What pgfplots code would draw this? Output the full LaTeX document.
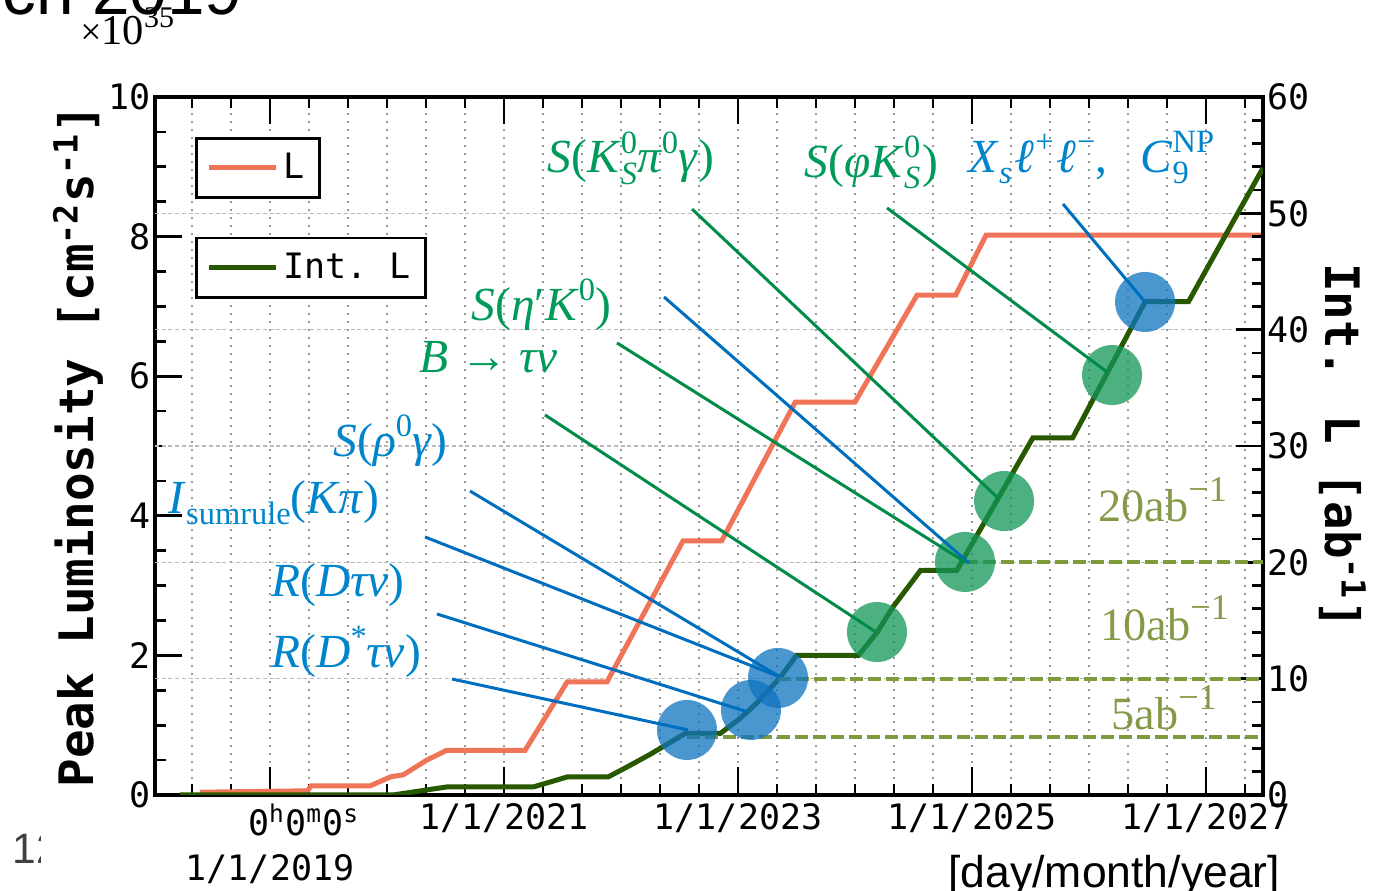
\documentclass[border=0pt]{standalone}
\usepackage{fontspec}
\setmainfont{Liberation Serif}
\newfontfamily\mono{DejaVu Sans Mono}
\newfontfamily\sans{Liberation Sans}
\usepackage{pgfplots}
\pgfplotsset{compat=1.18}

\definecolor{Lorange}{RGB}{240,117,88}
\definecolor{Igreen}{RGB}{40,88,0}
\definecolor{lblue}{RGB}{0,110,190}
\definecolor{tblue}{RGB}{0,132,204}
\definecolor{lgreen}{RGB}{0,140,72}
\definecolor{tgreen}{RGB}{0,154,90}
\definecolor{cblue}{RGB}{14,115,191}
\definecolor{cgreen}{RGB}{16,150,86}
\definecolor{olivetext}{RGB}{132,154,72}
\definecolor{olivedash}{RGB}{125,155,60}

\newcommand\lab{\fontsize{19}{21}\selectfont}
\newcommand\Sup[1]{\raisebox{0.42em}{\fontsize{13}{14}\selectfont #1}}
\newcommand\Sub[1]{\raisebox{-0.25em}{\fontsize{13}{14}\selectfont #1}}
\newcommand\SubSup[2]{\rlap{\Sup{#2}}\Sub{#1}}
\newcommand\abl{\fontsize{18.5}{20}\selectfont}
\newcommand\abSup[1]{\raisebox{0.45em}{\fontsize{14.5}{15}\selectfont #1}}

\pgfplotsset{
  common/.style={
    width=443.2pt, height=279.2pt, scale only axis,
    at={(0pt,0pt)}, anchor=south west,
    xmin=2018.017, xmax=2027.487,
    tick align=inside,
    major tick length=11pt, minor tick length=4.4pt,
    every tick/.style={black, line width=1.1pt},
    every minor tick/.style={black, line width=1.1pt},
    axis line style={line width=1.3pt},
    tick label style={font=\mono\fontsize{14}{18}\selectfont},
    /pgf/number format/assume math mode=true,
    legend image code/.code={\draw[##1] (0pt,0pt) -- (27pt,0pt);},
  }
}

\begin{document}
\begin{tikzpicture}
\useasboundingbox (-62pt,-38.4pt) rectangle (490.4pt,318pt);

% fragments around the chart
\node[anchor=base east, font=\sans\fontsize{27}{30}\selectfont, inner sep=0pt] at (35.2pt,312pt) {March 2019};
\node[anchor=base west, font=\fontsize{17}{19}\selectfont, inner sep=0pt] at (-30pt,300pt) {{\fontsize{15}{16}\selectfont ×}10\raisebox{0.42em}{\fontsize{12}{13}\selectfont 35}};
\begin{scope}
\clip (-62pt,-38.4pt) rectangle (-45.6pt,-10pt);
\node[anchor=base west, font=\sans\fontsize{17}{20}\selectfont, text=black!75, inner sep=0pt] at (-57pt,-27.2pt) {12};
\end{scope}
\node[anchor=base west, font=\sans\fontsize{17.8}{20}\selectfont, inner sep=0pt] at (317.2pt,-36.8pt) {[day/month/year]};

% ---------------- left axis: peak luminosity ----------------
\begin{axis}[common,
  ymin=0, ymax=10, ytick={0,2,4,6,8,10}, minor y tick num=3, ytick pos=left,
  xtick={2019,2021,2023,2025,2027},
  minor xtick={2018.3333,2018.6667,2019.3333,2019.6667,2020,2020.3333,2020.6667,2021.3333,2021.6667,2022,2022.3333,2022.6667,2023.3333,2023.6667,2024,2024.3333,2024.6667,2025.3333,2025.6667,2026,2026.3333,2026.6667,2027.3333},
  xticklabels={{\makebox[0pt]{\hspace{27pt}0\textsuperscript{h}0\textsuperscript{m}0\textsuperscript{s}}\\1/1/2019},1/1/2021,1/1/2023,1/1/2025,1/1/2027},
  xticklabel style={align=center},
  yticklabel style={inner xsep=1.5pt},
  xmajorgrids, xminorgrids,
  major grid style={gray!80, line width=0.6pt, dash pattern=on 0.8pt off 2.4pt},
  minor grid style={gray!80, line width=0.6pt, dash pattern=on 0.8pt off 2.4pt},
  extra y ticks={1.66667,3.33333,5,6.66667,8.33333},
  extra y tick labels={},
  extra y tick style={grid=major, major tick length=0pt,
    major grid style={gray!55, line width=0.6pt, dash pattern=on 1.6pt off 1.1pt}},
  ylabel={Peak Luminosity [cm\textsuperscript{-2}s\textsuperscript{-1}]},
  ylabel style={at={(axis description cs:-0.0695,0.5)}, anchor=center,
    font=\mono\bfseries\fontsize{19}{22}\selectfont},
  legend style={at={(axis description cs:0.036,0.943)}, anchor=north west,
    draw=black, line width=1.1pt, fill=white,
    font=\mono\fontsize{14}{16}\selectfont, inner xsep=4pt, inner ysep=4pt,
    cells={anchor=west}},
]
\addplot[Lorange, line width=2pt] coordinates {
 (2018.40,0.04) (2019.32,0.06) (2019.35,0.13) (2019.855,0.13) (2020.03,0.26)
 (2020.14,0.29) (2020.34,0.50) (2020.51,0.64) (2021.18,0.64) (2021.54,1.62)
 (2021.88,1.62) (2022.53,3.64) (2022.86,3.64) (2023.49,5.63) (2024.00,5.63)
 (2024.53,7.16) (2024.86,7.16) (2025.12,8.02) (2027.487,8.02)
};
\legend{L}
\end{axis}

% ---------------- right axis: integrated luminosity ----------------
\begin{axis}[common,
  hide x axis,
  axis y line*=right,
  ymin=0, ymax=60, ytick={0,10,20,30,40,50,60}, minor y tick num=4,
  yticklabel style={inner xsep=1.5pt},
  ylabel={Int. L [ab\textsuperscript{-1}]},
  ylabel style={at={(axis description cs:1.072,0.5)}, anchor=center, rotate=180,
    font=\mono\bfseries\fontsize{19}{22}\selectfont},
  legend style={at={(axis description cs:0.036,0.80)}, anchor=north west,
    draw=black, line width=1.1pt, fill=white,
    font=\mono\fontsize{14}{16}\selectfont, inner xsep=4pt, inner ysep=4pt,
    cells={anchor=west}},
]
\addplot[Igreen, line width=2pt] coordinates {
 (2018.23,0) (2020.05,0) (2020.51,0.69) (2021.25,0.69) (2021.54,1.55) (2021.89,1.55)
 (2022.05,2.4) (2022.25,3.5) (2022.40,4.4) (2022.55,5.3) (2022.85,5.3)
 (2023.02,6.6) (2023.16,7.9) (2023.36,10.1) (2023.50,12.0) (2024.03,12.0)
 (2024.19,14.0) (2024.32,16.1) (2024.53,18.9) (2024.56,19.3) (2024.87,19.3)
 (2025.52,30.7) (2025.86,30.7) (2026.48,42.4) (2026.85,42.4) (2027.487,53.9)
};
\legend{Int.\ L}

% target lines
\draw[olivedash, line width=1.6pt, dash pattern=on 5.2pt off 2pt] (axis cs:2022.564,5) -- (axis cs:2027.487,5);
\draw[olivedash, line width=1.6pt, dash pattern=on 5.2pt off 2pt] (axis cs:2023.342,10) -- (axis cs:2027.487,10);
\draw[olivedash, line width=1.6pt, dash pattern=on 5.2pt off 2pt] (axis cs:2024.940,20) -- (axis cs:2027.487,20);

% highlighted milestones
\fill[cblue, opacity=0.75] (axis cs:2022.564,5.59) circle[radius=12pt];
\fill[cblue, opacity=0.75] (axis cs:2023.111,7.31) circle[radius=12pt];
\fill[cblue, opacity=0.75] (axis cs:2023.342,10.06) circle[radius=12pt];
\fill[cgreen, opacity=0.75] (axis cs:2024.188,14.01) circle[radius=12pt];
\fill[cgreen, opacity=0.75] (axis cs:2024.940,20.03) circle[radius=12pt];
\fill[cgreen, opacity=0.75] (axis cs:2025.274,25.27) circle[radius=12pt];
\fill[cgreen, opacity=0.75] (axis cs:2026.197,36.10) circle[radius=12pt];
\fill[cblue, opacity=0.75] (axis cs:2026.479,42.38) circle[radius=12pt];

% pointer lines
\draw[lblue, line width=1.2pt] (axis cs:2020.556,9.97) -- (axis cs:2022.573,5.59);
\draw[lblue, line width=1.2pt] (axis cs:2020.427,15.56) -- (axis cs:2023.085,7.13);
\draw[lblue, line width=1.2pt] (axis cs:2020.325,22.18) -- (axis cs:2023.359,10.14);
\draw[lblue, line width=1.2pt] (axis cs:2020.709,26.13) -- (axis cs:2023.359,10.14);
\draw[lblue, line width=1.2pt] (axis cs:2022.368,42.81) -- (axis cs:2024.974,19.94);
\draw[lblue, line width=1.2pt] (axis cs:2025.778,50.80) -- (axis cs:2026.479,42.38);
\draw[lgreen, line width=1.2pt] (axis cs:2021.350,32.67) -- (axis cs:2024.179,14.01);
\draw[lgreen, line width=1.2pt] (axis cs:2021.966,38.86) -- (axis cs:2024.940,20.03);
\draw[lgreen, line width=1.2pt] (axis cs:2022.607,50.37) -- (axis cs:2025.222,25.53);
\draw[lgreen, line width=1.2pt] (axis cs:2024.274,50.46) -- (axis cs:2026.154,36.36);

% labels
\node[anchor=base west, inner sep=0pt, text=tgreen, font=\lab] at (axis cs:2021.368,53.47)
  {\textit{S}(\textit{K}\SubSup{\textit{S}}{0}\textit{π}\Sup{0}\textit{γ})};
\node[anchor=base west, inner sep=0pt, text=tgreen, font=\lab] at (axis cs:2023.564,53.12)
  {\textit{S}(\textit{φK}\SubSup{\textit{S}}{0}\kern1pt)};
\node[anchor=base west, inner sep=0pt, text=tblue, font=\lab] at (axis cs:2024.966,53.55)
  {\textit{X}\Sub{\textit{s}}\kern1pt\textit{ℓ}\kern0.5pt\Sup{+}\kern1pt\textit{ℓ}\kern0.5pt\Sup{−},\hspace{0.7em}\textit{C}\SubSup{9}{NP}};
\node[anchor=base west, inner sep=0pt, text=tgreen, font=\lab] at (axis cs:2020.718,40.83)
  {\textit{S}(\textit{η}′\textit{K}\Sup{0})};
\node[anchor=base west, inner sep=0pt, text=tgreen, font=\lab] at (axis cs:2020.274,36.36)
  {\textit{B} → \textit{τν}};
\node[anchor=base west, inner sep=0pt, text=tblue, font=\lab] at (axis cs:2019.538,29.06)
  {\textit{S}(\textit{ρ}\Sup{0}\textit{γ})};
\node[anchor=base west, inner sep=0pt, text=tblue, font=\lab] at (axis cs:2018.128,24.24)
  {\textit{I}\Sub{sumrule}(\textit{Kπ})};
\node[anchor=base west, inner sep=0pt, text=tblue, font=\lab] at (axis cs:2019.009,17.02)
  {\textit{R}(\textit{Dτν})};
\node[anchor=base west, inner sep=0pt, text=tblue, font=\lab] at (axis cs:2019.009,11.00)
  {\textit{R}(\textit{D}\Sup{*}\textit{τν})};
\node[anchor=base west, inner sep=0pt, text=olivetext, font=\abl] at (axis cs:2026.077,23.47)
  {20ab\abSup{−1}};
\node[anchor=base west, inner sep=0pt, text=olivetext, font=\abl] at (axis cs:2026.094,13.32)
  {10ab\abSup{−1}};
\node[anchor=base west, inner sep=0pt, text=olivetext, font=\abl] at (axis cs:2026.188,5.59)
  {5ab\abSup{−1}};
\end{axis}
\end{tikzpicture}
\end{document}
